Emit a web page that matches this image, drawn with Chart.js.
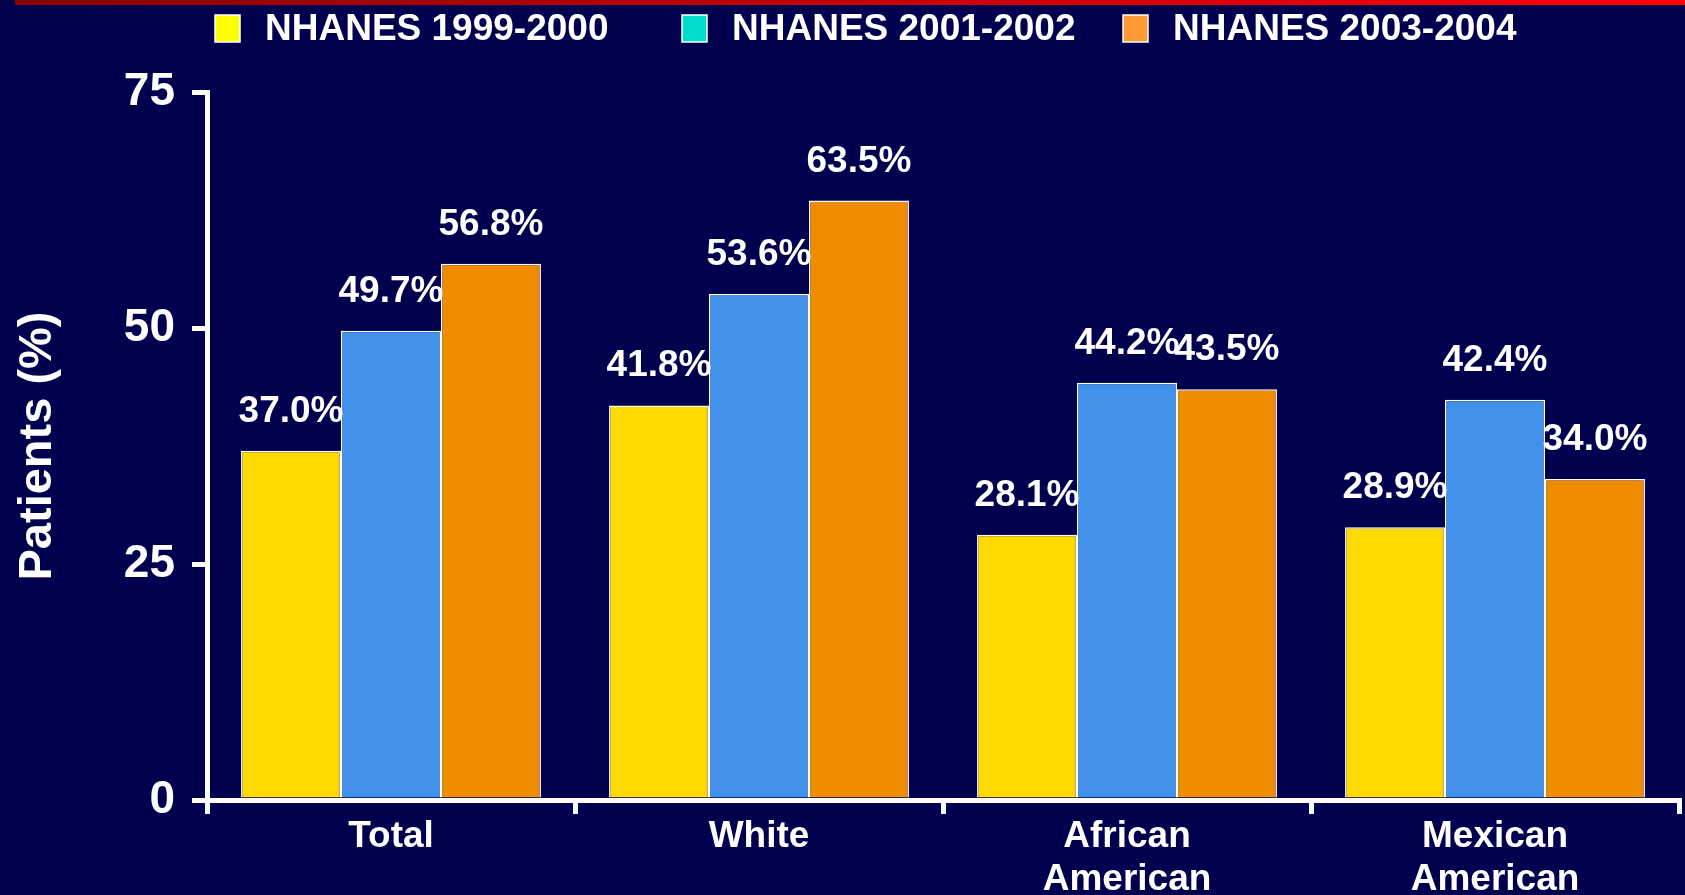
<!DOCTYPE html>
<html>
<head>
<meta charset="utf-8">
<script src="https://cdn.jsdelivr.net/npm/chart.js@4/dist/chart.umd.min.js"></script>
<style>
html,body{margin:0;padding:0;background:#00004E;overflow:hidden;}
#c{display:block;}
</style>
</head>
<body>
<canvas id="c" width="1685" height="895"></canvas>
<script>
// ---- data ----
const categories = ['Total', 'White', ['African', 'American'], ['Mexican', 'American']];
const seriesNames = ['NHANES 1999-2000', 'NHANES 2001-2002', 'NHANES 2003-2004'];
const values1999_2000 = [37.0, 41.8, 28.1, 28.9];
const values2001_2002 = [49.7, 53.6, 44.2, 42.4];
const values2003_2004 = [56.8, 63.5, 43.5, 34.0];
const yTickValues = [0, 25, 50, 75];
const yTitle = 'Patients (%)';

// ---- styles ----
const FONT = '"Liberation Sans", Arial, Helvetica, sans-serif';
const BG = '#00004E';
const barColors = ['#FFDA00', '#4191EA', '#F08C00'];
const legendColors = ['#FFFF00', '#00DDCC', '#FF9933'];
const legendX = [215, 682, 1123];

const bgPlugin = {
  id: 'bg',
  beforeDraw(chart) {
    const ctx = chart.ctx;
    ctx.save();
    ctx.fillStyle = BG;
    ctx.fillRect(0, 0, chart.width, chart.height);
    const g = ctx.createLinearGradient(15, 0, chart.width, 0);
    g.addColorStop(0, '#8A0000');
    g.addColorStop(1, '#FF0000');
    ctx.fillStyle = g;
    ctx.fillRect(15, 0, chart.width - 15, 5);
    ctx.restore();
  }
};

const legendPlugin = {
  id: 'customLegend',
  afterDraw(chart) {
    const ctx = chart.ctx;
    ctx.save();
    ctx.font = 'bold 37px ' + FONT;
    ctx.textBaseline = 'alphabetic';
    ctx.textAlign = 'left';
    seriesNames.forEach((name, i) => {
      const x = legendX[i];
      ctx.fillStyle = legendColors[i];
      ctx.fillRect(x, 15, 25, 27);
      ctx.strokeStyle = '#FFFFFF';
      ctx.lineWidth = 1.5;
      ctx.strokeRect(x, 15, 25, 27);
      ctx.fillStyle = '#FFFFFF';
      ctx.fillText(name, x + 50, 40);
    });
    ctx.restore();
  }
};

const valueLabelPlugin = {
  id: 'valueLabels',
  afterDatasetsDraw(chart) {
    const ctx = chart.ctx;
    ctx.save();
    ctx.font = 'bold 37px ' + FONT;
    ctx.fillStyle = '#FFFFFF';
    ctx.textAlign = 'center';
    ctx.textBaseline = 'alphabetic';
    chart.data.datasets.forEach((ds, i) => {
      chart.getDatasetMeta(i).data.forEach((bar, j) => {
        ctx.fillText(ds.data[j].toFixed(1) + '%', bar.x, bar.y - 29);
      });
    });
    ctx.restore();
  }
};

const seriesValues = [values1999_2000, values2001_2002, values2003_2004];

new Chart(document.getElementById('c'), {
  type: 'bar',
  data: {
    labels: categories,
    datasets: seriesNames.map((name, i) => ({
      label: name,
      data: seriesValues[i],
      backgroundColor: barColors[i],
      borderColor: '#FFFFFF',
      borderWidth: 1.5,
      categoryPercentage: 0.815,
      barPercentage: 1.0
    }))
  },
  options: {
    responsive: false,
    devicePixelRatio: 1,
    animation: false,
    layout: { padding: { top: 92, left: 0, right: 6, bottom: 0 } },
    plugins: {
      legend: { display: false },
      tooltip: { enabled: false }
    },
    scales: {
      x: {
        offset: true,
        grid: {
          display: true,
          drawOnChartArea: false,
          drawTicks: true,
          tickLength: 14,
          color: '#FFFFFF',
          lineWidth: 5,
          offset: true
        },
        border: { display: true, color: '#FFFFFF', width: 5 },
        ticks: {
          color: '#FFFFFF',
          font: { family: FONT, weight: 'bold', size: 37, lineHeight: 1.16 },
          padding: 1,
          maxRotation: 0,
          autoSkip: false
        },
        afterFit(s) { s.height = 95; }
      },
      y: {
        min: 0,
        max: 75,
        afterBuildTicks(s) { s.ticks = yTickValues.map(v => ({ value: v })); },
        grid: {
          display: true,
          drawOnChartArea: false,
          drawTicks: true,
          tickLength: 15,
          color: '#FFFFFF',
          lineWidth: 5
        },
        border: { display: true, color: '#FFFFFF', width: 5 },
        ticks: {
          color: '#FFFFFF',
          font: { family: FONT, weight: 'bold', size: 46 },
          padding: 17
        },
        title: {
          display: true,
          text: yTitle,
          color: '#FFFFFF',
          font: { family: FONT, weight: 'bold', size: 47, lineHeight: 1.2 },
          padding: { top: 10, bottom: 0 }
        },
        afterFit(s) { s.width = 207; }
      }
    }
  },
  plugins: [bgPlugin, legendPlugin, valueLabelPlugin]
});
</script>
</body>
</html>
